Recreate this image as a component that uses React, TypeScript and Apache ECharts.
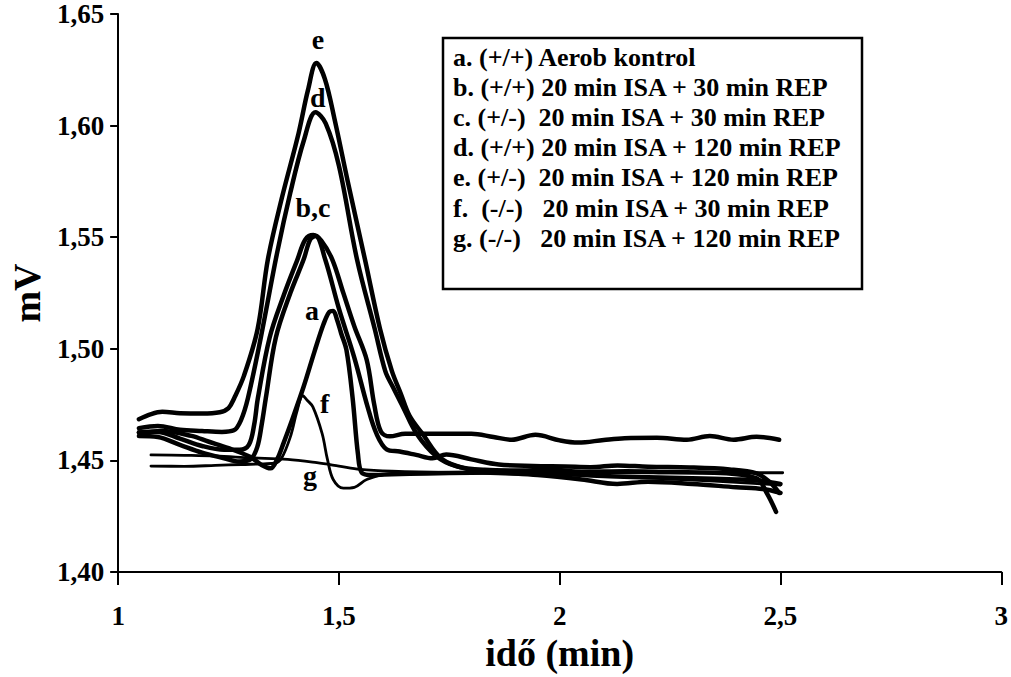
import React, { useEffect, useRef } from "react";
import * as echarts from "echarts";

// ---- data (x: idő in min, y: mV) ----
const curveA: number[][] = [
  [1.047, 1.4625], [1.1, 1.4632], [1.166, 1.461], [1.204, 1.4585], [1.25, 1.4555], [1.3, 1.4515],
  [1.325, 1.448], [1.345, 1.4465], [1.36, 1.4505], [1.375, 1.458], [1.39, 1.466], [1.42, 1.483],
  [1.445, 1.499], [1.465, 1.511], [1.478, 1.5165], [1.487, 1.517], [1.495, 1.5135], [1.505, 1.507],
  [1.517, 1.4995], [1.531, 1.478], [1.543, 1.453], [1.552, 1.4445], [1.575, 1.4435], [1.62, 1.4438],
  [1.7, 1.4442], [1.8, 1.4445], [1.9, 1.4448], [1.95, 1.4455], [2.0, 1.4445], [2.1, 1.443],
  [2.2, 1.4425], [2.3, 1.442], [2.4, 1.4415], [2.45, 1.441], [2.5, 1.4395],
];
const curveB: number[][] = [
  [1.047, 1.461], [1.09, 1.4605], [1.14, 1.457], [1.19, 1.4535], [1.24, 1.451], [1.275, 1.4495],
  [1.3, 1.4505], [1.315, 1.456], [1.325, 1.466], [1.3345, 1.478], [1.357, 1.505], [1.39, 1.525],
  [1.42, 1.54], [1.435, 1.549], [1.447, 1.5505], [1.469, 1.54], [1.5, 1.518], [1.535, 1.496],
  [1.565, 1.474], [1.585, 1.462], [1.608, 1.455], [1.6375, 1.454], [1.675, 1.4525], [1.712, 1.451],
  [1.743, 1.4527], [1.8, 1.4505], [1.862, 1.4482], [1.94, 1.4475], [2.012, 1.4473], [2.07, 1.447],
  [2.131, 1.4478], [2.2, 1.4472], [2.295, 1.4469], [2.385, 1.446], [2.446, 1.4442], [2.475, 1.4405],
  [2.497, 1.4355],
];
const curveC: number[][] = [
  [1.047, 1.4625], [1.09, 1.4628], [1.14, 1.4598], [1.19, 1.4565], [1.24, 1.4548], [1.275, 1.4548],
  [1.296, 1.457], [1.308, 1.466], [1.3165, 1.478], [1.343, 1.505], [1.375, 1.524], [1.406, 1.54],
  [1.424, 1.549], [1.442, 1.551], [1.46, 1.5485], [1.485, 1.54], [1.51, 1.525], [1.535, 1.51],
  [1.563, 1.495], [1.58, 1.475], [1.595, 1.463], [1.615, 1.4608], [1.65, 1.462], [1.712, 1.462],
  [1.8, 1.462], [1.85, 1.4605], [1.891, 1.4593], [1.945, 1.4615], [2.0, 1.459], [2.042, 1.458],
  [2.1, 1.4592], [2.147, 1.46], [2.22, 1.4602], [2.288, 1.4593], [2.34, 1.461], [2.394, 1.4593],
  [2.446, 1.4606], [2.497, 1.4593],
];
const curveD: number[][] = [
  [1.047, 1.4645], [1.09, 1.4655], [1.14, 1.4638], [1.19, 1.4632], [1.235, 1.4628], [1.262, 1.4635],
  [1.278, 1.468], [1.294, 1.478], [1.323, 1.505], [1.36, 1.543], [1.39, 1.57], [1.42, 1.593],
  [1.447, 1.606], [1.47, 1.601], [1.5, 1.582], [1.541, 1.54], [1.581, 1.509], [1.605, 1.49],
  [1.622, 1.483], [1.645, 1.474], [1.676, 1.462], [1.72, 1.452], [1.765, 1.4475], [1.83, 1.4458],
  [1.9, 1.4455], [1.98, 1.4458], [2.05, 1.445], [2.15, 1.4452], [2.25, 1.4448], [2.35, 1.4445],
  [2.446, 1.442], [2.47, 1.435], [2.49, 1.427],
];
const curveE: number[][] = [
  [1.047, 1.4685], [1.075, 1.4708], [1.1, 1.4718], [1.14, 1.4712], [1.19, 1.471], [1.23, 1.4716],
  [1.25, 1.4735], [1.263, 1.478], [1.285, 1.488], [1.316, 1.509], [1.339, 1.54], [1.37, 1.567],
  [1.4085, 1.5965], [1.43, 1.616], [1.449, 1.628], [1.468, 1.621], [1.49, 1.603], [1.52, 1.575],
  [1.559, 1.54], [1.593, 1.509], [1.62, 1.49], [1.64, 1.48], [1.66, 1.47], [1.689, 1.462],
  [1.734, 1.4505], [1.795, 1.446], [1.85, 1.4448], [1.95, 1.4435], [2.05, 1.4415], [2.13, 1.4395],
  [2.2, 1.4405], [2.3, 1.4395], [2.4, 1.438], [2.46, 1.4372], [2.5, 1.4355],
];
const curveF: number[][] = [
  [1.0743, 1.4475], [1.15, 1.4474], [1.22, 1.4478], [1.28, 1.4482], [1.33, 1.4485], [1.355, 1.4488],
  [1.37, 1.451], [1.39, 1.4606], [1.405, 1.472], [1.418, 1.479], [1.428, 1.477], [1.441, 1.474],
  [1.462, 1.462], [1.474, 1.4505], [1.487, 1.4415], [1.51, 1.4376], [1.535, 1.438], [1.563, 1.4415],
  [1.615, 1.444], [1.7, 1.4442], [1.8, 1.4443], [1.9, 1.4438], [2.0, 1.4435], [2.1, 1.443],
  [2.2, 1.4422], [2.3, 1.4412], [2.4, 1.4402], [2.5, 1.439],
];
const curveG: number[][] = [
  [1.0743, 1.4525], [1.15, 1.4523], [1.22, 1.452], [1.3, 1.4512], [1.384, 1.4505], [1.45, 1.449],
  [1.5, 1.4475], [1.548, 1.446], [1.62, 1.4452], [1.75, 1.4447], [2.0, 1.4445], [2.25, 1.4445],
  [2.505, 1.4445],
];

const seriesNames = ["a", "b", "c", "d", "e", "f", "g"];
const seriesData = [curveA, curveB, curveC, curveD, curveE, curveF, curveG];
const thinSeries = ["f", "g"];

// curve labels drawn on the chart
const peakLabelNames = ["e", "d", "b,c", "a", "f", "g"];
const peakLabelPos: number[][] = [
  [1.4534, 1.6385], [1.4534, 1.6124], [1.4422, 1.5633], [1.44, 1.5168], [1.4691, 1.4752], [1.4355, 1.4429],
];

const legendLines = [
  "a. (+/+) Aerob kontrol",
  "b. (+/+) 20 min ISA + 30 min REP",
  "c. (+/-)\u00a0 20 min ISA + 30 min REP",
  "d. (+/+) 20 min ISA + 120 min REP",
  "e. (+/-)\u00a0 20 min ISA + 120 min REP",
  "f.\u00a0 (-/-)\u00a0\u00a0 20 min ISA + 30 min REP",
  "g. (-/-)\u00a0\u00a0 20 min ISA + 120 min REP",
];

const xTickLabels = ["1", "1,5", "2", "2,5", "3"];
const yTickLabels = ["1,40", "1,45", "1,50", "1,55", "1,60", "1,65"];
const xAxisTitle = "idő (min)";
const yAxisTitle = "mV";

const FONT = "'Liberation Serif', 'Times New Roman', serif";

export default function App() {
  const ref = useRef<HTMLDivElement>(null);
  useEffect(() => {
    if (!ref.current) return;
    const chart = echarts.init(ref.current, undefined, { renderer: "svg" });
    const lineSeries = seriesNames.map((name, i) => ({
      name,
      type: "line",
      data: seriesData[i],
      showSymbol: false,
      smooth: 0.35,
      lineStyle: { color: "#000", width: thinSeries.includes(name) ? 2.8 : 4.5, cap: "round", join: "round" },
      itemStyle: { color: "#000" },
      silent: true,
      z: 2,
    }));
    const legendGraphics: any[] = [
      {
        type: "rect",
        shape: { x: 443, y: 38, width: 419, height: 251 },
        style: { fill: "#fff", stroke: "#000", lineWidth: 2.5 },
        z: 10,
      },
      ...legendLines.map((t, i) => ({
        type: "text",
        x: 453,
        y: 57 + i * 30.2,
        style: {
          text: t,
          fill: "#000",
          font: `bold 26px ${FONT}`,
          verticalAlign: "middle",
        },
        z: 11,
      })),
    ];
    chart.setOption({
      animation: false,
      backgroundColor: "#fff",
      grid: { left: 116, right: 4, top: 14, bottom: 99, containLabel: false },
      xAxis: {
        type: "value",
        min: 1,
        max: 3,
        interval: 0.5,
        splitLine: { show: false },
        axisLine: { onZero: false, lineStyle: { color: "#000", width: 2 } },
        axisTick: { show: true, inside: false, length: 13, lineStyle: { color: "#000", width: 2 } },
        axisLabel: {
          color: "#000",
          fontFamily: FONT,
          fontWeight: "bold",
          fontSize: 27,
          margin: 30,
          formatter: (v: number) => xTickLabels[Math.round((v - 1) / 0.5)] ?? "",
        },
        name: xAxisTitle,
        nameLocation: "middle",
        nameGap: 58,
        nameTextStyle: { color: "#000", fontFamily: FONT, fontWeight: "bold", fontSize: 38 },
      },
      yAxis: {
        type: "value",
        min: 1.4,
        max: 1.65,
        interval: 0.05,
        splitLine: { show: false },
        axisLine: { onZero: false, lineStyle: { color: "#000", width: 2 } },
        axisTick: { show: true, inside: false, length: 8, lineStyle: { color: "#000", width: 2 } },
        axisLabel: {
          color: "#000",
          fontFamily: FONT,
          fontWeight: "bold",
          fontSize: 27,
          margin: 14,
          formatter: (v: number) => yTickLabels[Math.round((v - 1.4) / 0.05)] ?? "",
        },
        name: yAxisTitle,
        nameLocation: "middle",
        nameRotate: 90,
        nameGap: 72,
        nameTextStyle: { color: "#000", fontFamily: FONT, fontWeight: "bold", fontSize: 38 },
      },
      series: [
        ...lineSeries,
        {
          name: "labels",
          type: "scatter",
          symbolSize: 1,
          silent: true,
          itemStyle: { color: "#fff", opacity: 0 },
          data: peakLabelPos.map((p, i) => ({ value: p, name: peakLabelNames[i] })),
          label: {
            show: true,
            position: [0, 0],
            align: "center",
            verticalAlign: "middle",
            formatter: (p: any) => p.name,
            color: "#000",
            opacity: 1,
            textBorderWidth: 0,
            fontFamily: FONT,
            fontWeight: "bold",
            fontSize: 28,
          },
          z: 5,
        },
      ],
      graphic: legendGraphics,
    });
    return () => chart.dispose();
  }, []);
  return (
    <div
      ref={ref}
      style={{ position: "absolute", left: 0, top: 0, width: 1011, height: 677, background: "#fff" }}
    />
  );
}
